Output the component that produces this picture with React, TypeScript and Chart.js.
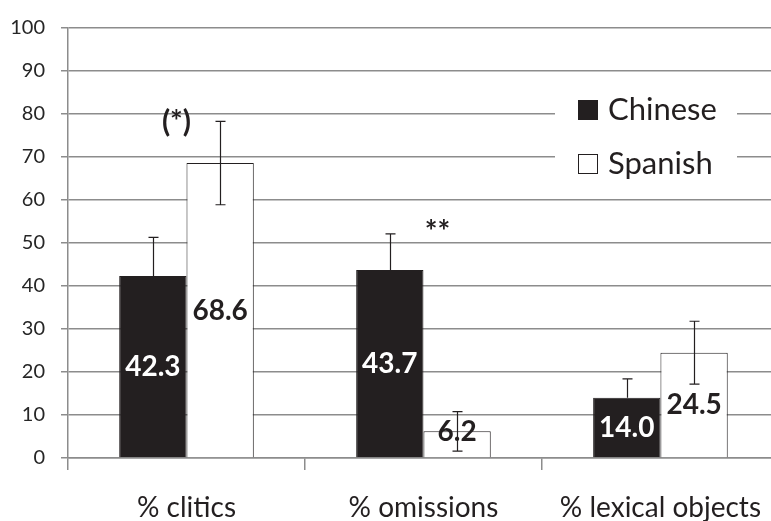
import React, { useEffect, useRef } from 'react';
import { Chart, registerables } from 'chart.js';

Chart.register(...registerables);

const categories = ['% clitics', '% omissions', '% lexical objects'];
const seriesNames = ['Chinese', 'Spanish'];
const chineseValues = [42.3, 43.7, 14.0];
const spanishValues = [68.6, 6.2, 24.5];
const chineseErrors = [9.0, 8.4, 4.4];
const spanishErrors = [9.7, 4.6, 7.3];
const significanceLabels = ['(*)', '**', ''];
const significanceLevels = [75.7, 50.3, 0];
const yMin = 0;
const yMax = 100;
const yStep = 10;

const FONT = 'Lato, "Open Sans", sans-serif';
const DARK = '#231f20';
const GRID = '#8c8c8c';
const CANVAS_W = 782;
const CANVAS_H = 521;

const overlayPlugin = {
  id: 'overlay',
  afterDatasetsDraw(chart: any) {
    const ctx = chart.ctx;
    const ys = chart.scales.y;
    const xs = chart.scales.x;
    const errs = [chineseErrors, spanishErrors];
    const base = ys.getPixelForValue(0);
    ctx.save();
    // value labels
    chart.data.datasets.forEach((ds: any, di: number) => {
      const meta = chart.getDatasetMeta(di);
      meta.data.forEach((bar: any, i: number) => {
        const v = ds.data[i] as number;
        const top = ys.getPixelForValue(v);
        const cy = Math.min((top + base) / 2, base - 26);
        ctx.font = `bold 28px ${FONT}`;
        ctx.textAlign = 'center';
        ctx.textBaseline = 'middle';
        ctx.fillStyle = di === 0 ? '#ffffff' : DARK;
        ctx.fillText(v.toFixed(1), bar.x, cy);
      });
    });
    // error bars
    chart.data.datasets.forEach((ds: any, di: number) => {
      const meta = chart.getDatasetMeta(di);
      meta.data.forEach((bar: any, i: number) => {
        const v = ds.data[i] as number;
        const e = errs[di][i];
        const yTop = ys.getPixelForValue(v + e);
        const yBot = di === 0 ? ys.getPixelForValue(v) : ys.getPixelForValue(v - e);
        const x = Math.round(bar.x) + 0.5;
        ctx.strokeStyle = DARK;
        ctx.lineWidth = 1.2;
        ctx.beginPath();
        ctx.moveTo(x, yTop);
        ctx.lineTo(x, yBot);
        ctx.moveTo(x - 5, yTop);
        ctx.lineTo(x + 5, yTop);
        if (di !== 0) {
          ctx.moveTo(x - 5, yBot);
          ctx.lineTo(x + 5, yBot);
        }
        ctx.stroke();
      });
    });
    // significance markers
    const offsets = [-10, 14, 0];
    significanceLabels.forEach((lab, i) => {
      if (!lab) return;
      ctx.font = `bold 30px ${FONT}`;
      ctx.textAlign = 'center';
      ctx.textBaseline = 'alphabetic';
      ctx.fillStyle = DARK;
      ctx.fillText(lab, xs.getPixelForValue(i) + offsets[i], ys.getPixelForValue(significanceLevels[i]));
    });
    ctx.restore();
  },
  afterDraw(chart: any) {
    const ctx = chart.ctx;
    ctx.save();
    ctx.fillStyle = '#ffffff';
    ctx.fillRect(555, 86, 182, 98);
    ctx.fillStyle = DARK;
    ctx.fillRect(578, 100, 20, 20);
    ctx.fillStyle = '#ffffff';
    ctx.fillRect(578.5, 154.5, 19, 19);
    ctx.strokeStyle = DARK;
    ctx.lineWidth = 1;
    ctx.strokeRect(578.5, 154.5, 19, 19);
    ctx.font = `31px ${FONT}`;
    ctx.textAlign = 'left';
    ctx.textBaseline = 'middle';
    ctx.fillStyle = DARK;
    ctx.fillText(seriesNames[0], 608, 110);
    ctx.fillText(seriesNames[1], 608, 164);
    ctx.restore();
  },
};

export default function App() {
  const ref = useRef<HTMLCanvasElement | null>(null);
  useEffect(() => {
    document.body.style.margin = '0';
    const canvas = ref.current;
    if (!canvas) return;
    const chart = new Chart(canvas, {
      type: 'bar',
      data: {
        labels: categories,
        datasets: [
          {
            label: seriesNames[0],
            data: chineseValues,
            backgroundColor: DARK,
            borderColor: DARK,
            borderWidth: 1,
            barPercentage: 1,
            categoryPercentage: 0.568,
          },
          {
            label: seriesNames[1],
            data: spanishValues,
            backgroundColor: '#ffffff',
            borderColor: DARK,
            borderWidth: 1,
            barPercentage: 1,
            categoryPercentage: 0.568,
          },
        ],
      },
      options: {
        responsive: false,
        animation: false,
        devicePixelRatio: 1,
        layout: { padding: { top: 22, left: 0, right: 0, bottom: 0 } },
        plugins: { legend: { display: false }, tooltip: { enabled: false } },
        scales: {
          x: {
            offset: true,
            grid: {
              offset: true,
              drawOnChartArea: false,
              drawTicks: true,
              tickLength: 12,
              color: GRID,
              lineWidth: 1.5,
            },
            border: { color: GRID, width: 1.5 },
            ticks: {
              font: { family: FONT, size: 28 },
              color: DARK,
              padding: 21,
              maxRotation: 0,
              autoSkip: false,
            },
            afterFit: (s: any) => {
              s.height = CANVAS_H - 458;
            },
          },
          y: {
            min: yMin,
            max: yMax,
            ticks: {
              stepSize: yStep,
              font: { family: FONT, size: 20 },
              color: '#262626',
              padding: 16,
            },
            grid: { color: GRID, lineWidth: 1.5, tickLength: 7 },
            border: { color: GRID, width: 1.5 },
            afterFit: (s: any) => {
              s.width = 68;
            },
          },
        },
      },
      plugins: [overlayPlugin],
    });
    return () => chart.destroy();
  }, []);
  return (
    <div style={{ width: 771, height: 521, overflow: 'hidden' }}>
      <canvas
        ref={ref}
        width={CANVAS_W}
        height={CANVAS_H}
        style={{ display: 'block', width: CANVAS_W, height: CANVAS_H }}
      />
    </div>
  );
}
